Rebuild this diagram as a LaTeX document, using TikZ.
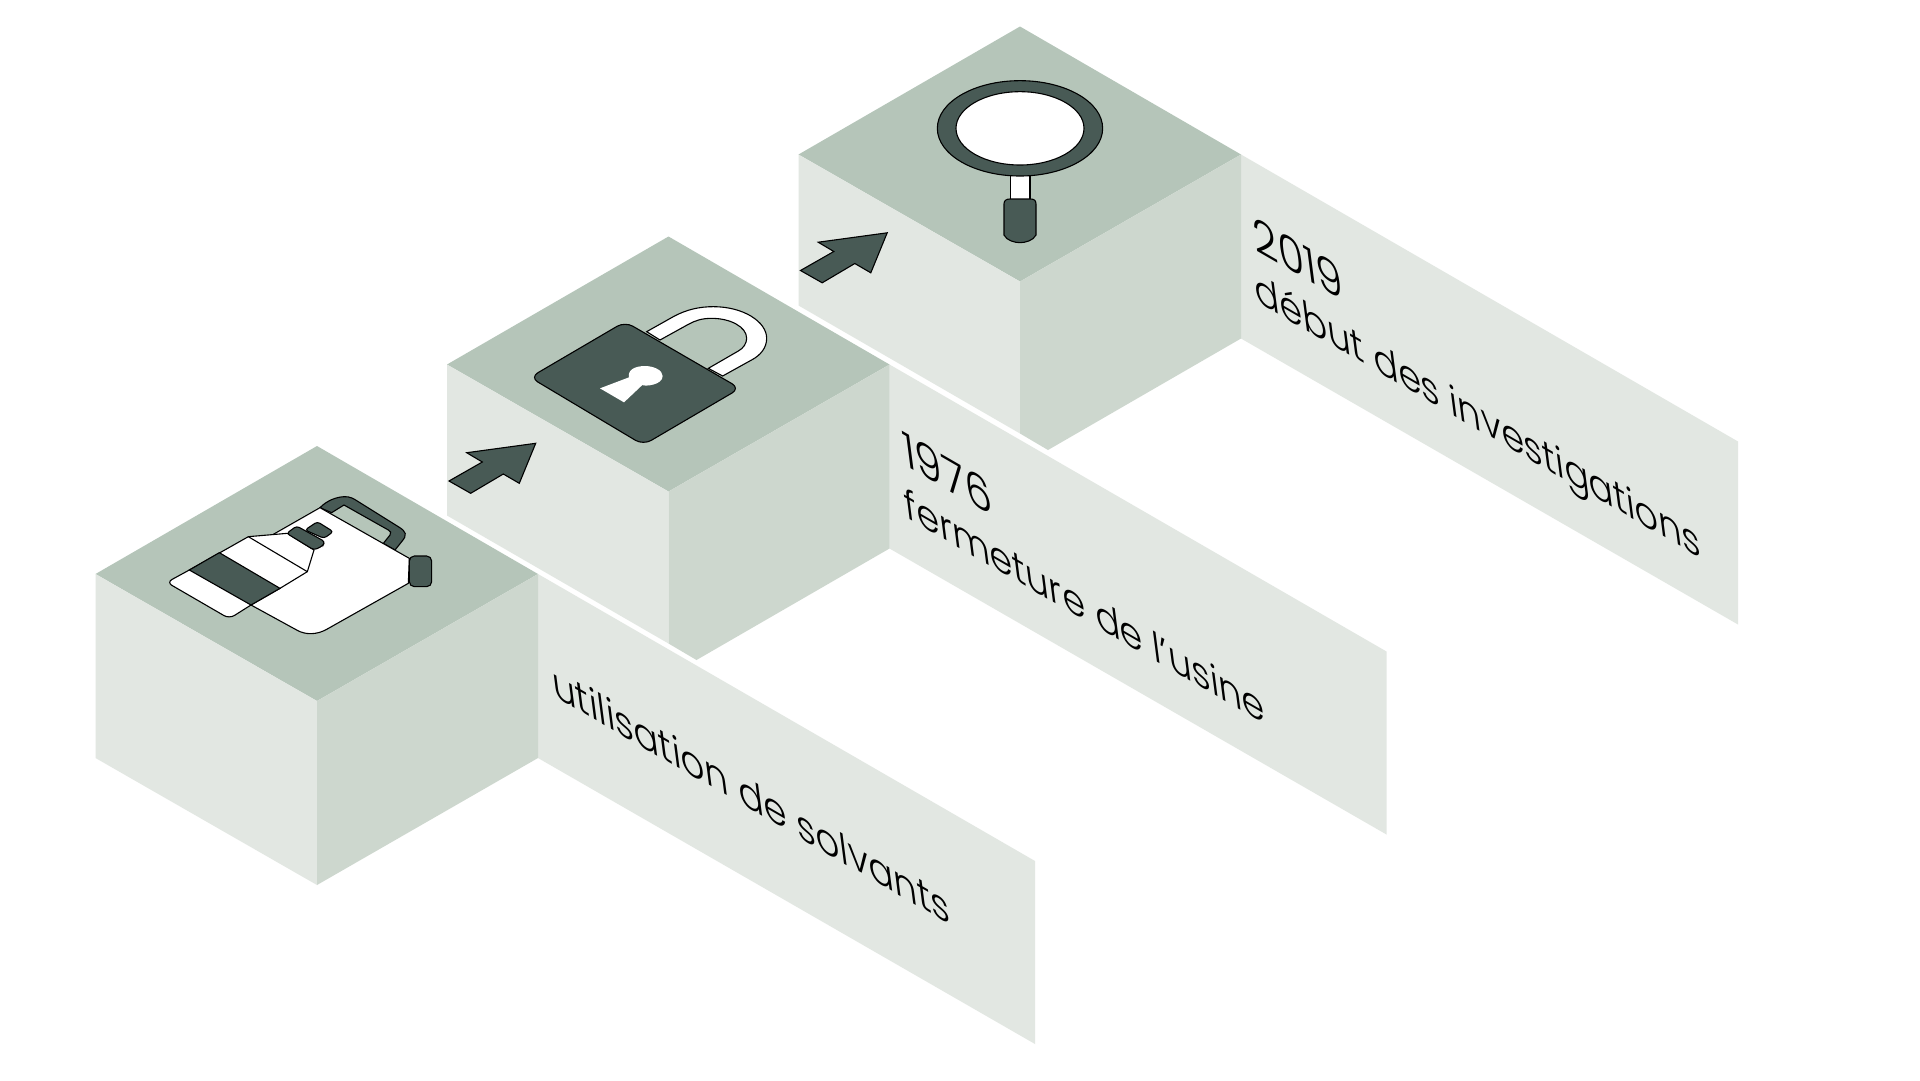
\documentclass[tikz,border=0pt]{standalone}
\usepackage{fontspec}
\setmainfont{Poppins Light}
\usepackage{tikz}
\definecolor{topgreen}{HTML}{B5C5B9}
\definecolor{sidegreen}{HTML}{CDD7CE}
\definecolor{palegreen}{HTML}{E2E7E2}
\definecolor{darkgreen}{HTML}{485A55}
\newcommand{\yearlabel}[1]{\hspace*{7pt}{\fontsize{49}{55}\selectfont #1}}
\tikzset{
  icon/.style={draw=black,line width=1.1pt,fill=white},
  icondark/.style={icon,fill=darkgreen},
  panellabel/.style={anchor=west,align=left,inner sep=0pt,font=\fontsize{43}{55}\selectfont,
    cm={0.866,-0.5,-0.13,1,(0,0)}},
  datedlabel/.style={panellabel,font=\fontsize{42.3}{55}\selectfont}
}
\begin{document}
\begin{tikzpicture}[x=1pt,y=-1pt]
  \useasboundingbox (0,0) rectangle (1920,1080);
  \fill[white] (0,0) rectangle (1920,1080);
  % the three blocks, each with its panel
  \foreach \dx/\dy/\n in {703/-419.5/3,351.5/-209.5/2,0/0/1} {
    \begin{scope}[shift={(\dx,\dy)}]
      \fill[palegreen] (538,574) -- (1035,861) -- (1035,1044) -- (538,758) -- cycle;
      \fill[topgreen] (95.5,574) -- (317,446) -- (538,574) -- (317,701) -- cycle;
      \ifnum\n=1
        \fill[palegreen] (95.5,574) -- (317,701) -- (317,885) -- (95.5,758) -- cycle;
        \fill[sidegreen] (317,701) -- (538,574) -- (538,758) -- (317,885) -- cycle;
      \else
        \fill[palegreen] (95.5,574) -- (317,701) -- (317,853) -- (95.5,725) -- cycle;
        \fill[sidegreen] (317,701) -- (538,574) -- (538,758) -- (345,869.5) -- (317,853) -- cycle;
      \fi
    \end{scope}
  }
  % arrows
  \foreach \dx/\dy in {0/0,351.5/-210.5} {
    \begin{scope}[shift={(\dx,\dy)}]
      \draw[icondark] (535.7,443.3) -- (466.7,452.7) -- (482.3,462) -- (449,481)
        -- (470.7,493.3) -- (503.3,474) -- (519.3,483.3) -- cycle;
    \end{scope}
  }
  % jug and bottle
  \begin{scope}[shift={(150,470)},scale=1/3]
    \draw[icondark] (510,113) .. controls (530,92) and (560,80) .. (585,80)
      .. controls (600,80) and (610,85) .. (625,95) -- (745,170)
      .. controls (770,185) and (772,195) .. (755,215) -- (735,240) -- (700,220) -- (720,195)
      .. controls (725,187) and (722,185) .. (715,180) -- (582,105) -- (545,128) -- cycle;
    \draw[icon] (510,113) -- (778,265) -- (775,340) -- (530,478)
      .. controls (500,495) and (465,495) .. (440,480) -- (303,405) -- (370,193) -- cycle;
    \draw[icondark,rounded corners=5pt] (778,258) rectangle (845,350);
    \draw[icon] (118,300) [rounded corners=6pt] -- (50,337) -- (238,446) [sharp corners] -- (303,405)
      -- (390,355) -- (472,305) -- (492,240) -- (412,190) -- (295,200) -- cycle;
    \draw[icondark] (118,300) -- (208,248) -- (390,355) -- (303,405) -- cycle;
    \draw[icon,fill=none] (295,200) -- (472,305);
    \draw[icondark,rounded corners=3pt] (465,180) -- (502,155) -- (550,185) -- (522,205) -- cycle;
    \draw[icondark,rounded corners=3pt] (410,190) -- (440,168) -- (525,215) -- (518,228) -- (492,240) -- cycle;
  \end{scope}
  % padlock
  \begin{scope}[shift={(510,290)},scale=1/3]
    \draw[icon] (410,125) -- (490,80) .. controls (530,58) and (570,50) .. (610,50)
      .. controls (700,50) and (770,95) .. (770,145) .. controls (770,175) and (750,195) .. (730,207)
      -- (638,258) -- (595,235) -- (685,183) .. controls (700,175) and (710,160) .. (710,145)
      .. controls (710,110) and (660,85) .. (605,85) .. controls (575,85) and (555,92) .. (535,103) -- (450,150) -- cycle;
    \draw[icondark,rounded corners=9pt] (60,262) -- (345,95) -- (690,295) -- (400,465) -- cycle;
    \draw[fill=white,draw=none] (270,295) -- (342,337) -- (397,285)
      .. controls (405,290) and (458,285) .. (458,258) .. controls (458,240) and (430,228) .. (405,228)
      .. controls (375,228) and (352,240) .. (357,262) -- cycle;
  \end{scope}
  % magnifier
  \begin{scope}[shift={(790,60)},scale=1/3]
    \draw[icon] (661,340) rectangle (720,425);
    \draw[icondark] (690,205) ellipse [x radius=248,y radius=143];
    \draw[icon] (690,205) ellipse [x radius=192,y radius=110];
    \draw[icondark] (660,417) -- (722,417) .. controls (733,417) and (738,422) .. (738,432) -- (738,525)
      .. controls (730,542) and (705,548) .. (690,548) .. controls (675,548) and (650,542) .. (642,525)
      -- (642,432) .. controls (642,422) and (648,417) .. (660,417) -- cycle;
  \end{scope}
  % labels
  \node[panellabel] (solvants) at (552,680) {utilisation de solvants};
  \node[datedlabel] (usine) at (900.5,472) {\yearlabel{1976}\\fermeture de l’usine};
  \node[datedlabel] (investigations) at (1251.5,262) {\yearlabel{2019}\\début des investigations};
\end{tikzpicture}
\end{document}
